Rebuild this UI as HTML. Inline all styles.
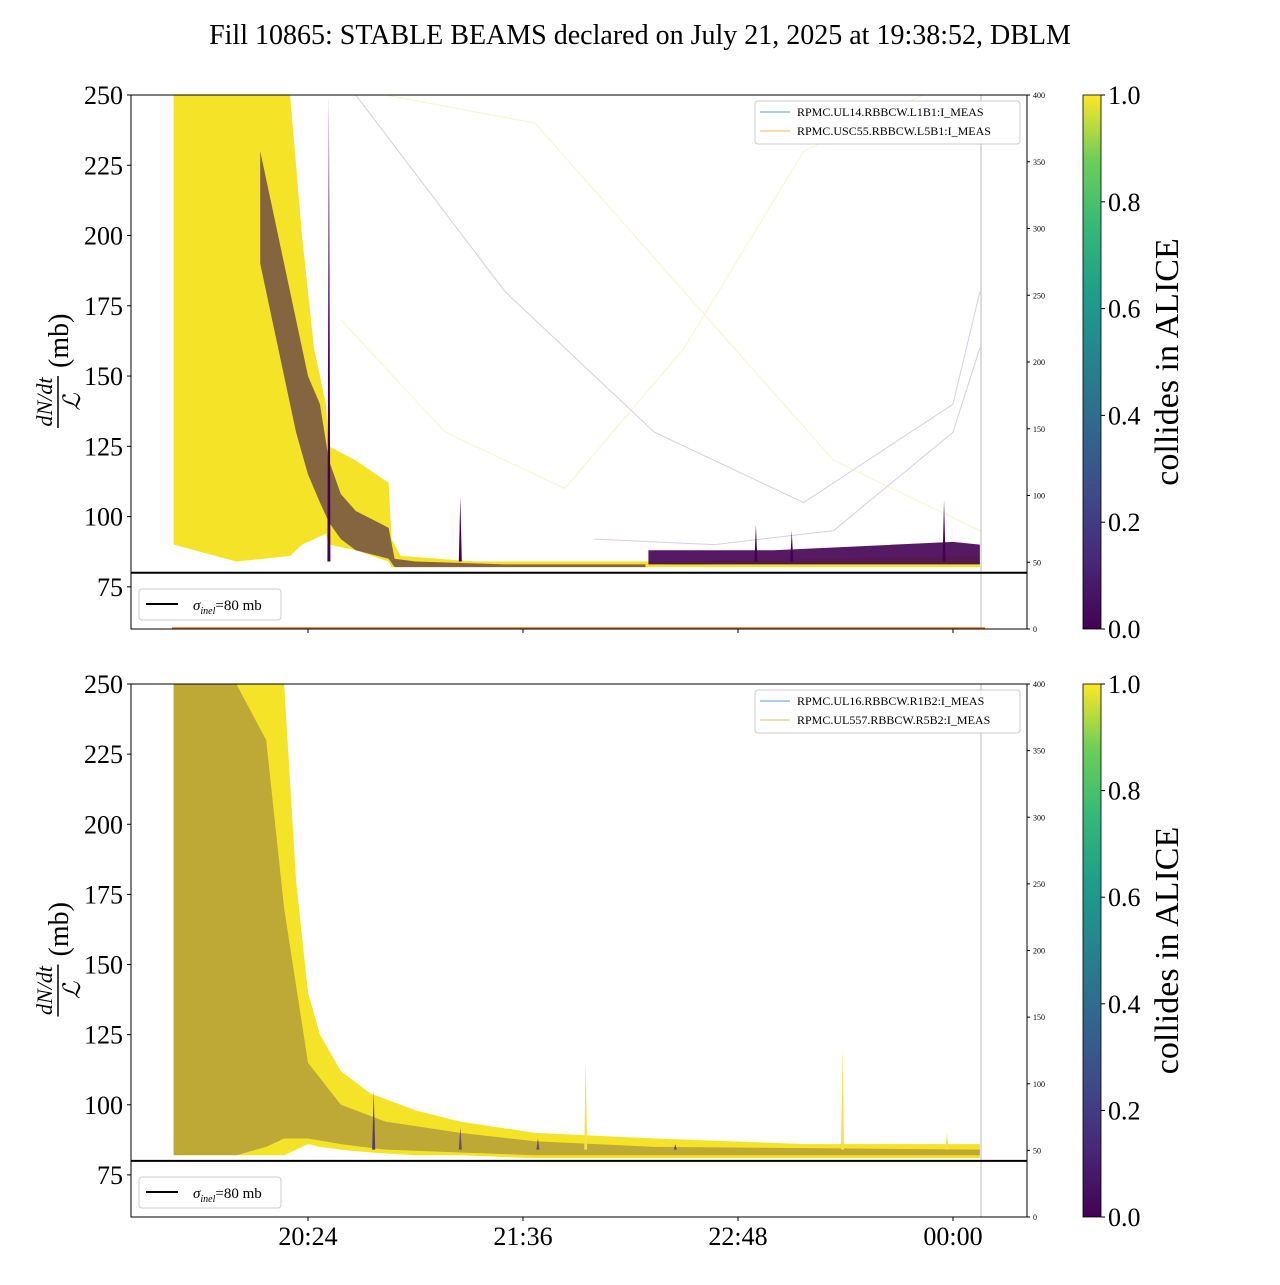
<!DOCTYPE html>
<html><head><meta charset="utf-8"><style>
body{margin:0;background:#fff;}
svg text{font-family:"Liberation Serif",serif;}
</style></head><body>
<svg id="fig" width="1280" height="1280" xmlns="http://www.w3.org/2000/svg">
<defs>
<linearGradient id="viridis" x1="0" y1="1" x2="0" y2="0">
<stop offset="0" stop-color="#440154"/><stop offset="0.13" stop-color="#482878"/><stop offset="0.25" stop-color="#3e4a89"/><stop offset="0.38" stop-color="#31688e"/><stop offset="0.5" stop-color="#26828e"/><stop offset="0.63" stop-color="#1f9e89"/><stop offset="0.75" stop-color="#35b779"/><stop offset="0.88" stop-color="#6ece58"/><stop offset="1" stop-color="#fde725"/>
</linearGradient>
<clipPath id="clipTop"><rect x="131" y="95" width="896" height="534"/></clipPath>
<clipPath id="clipBot"><rect x="131" y="684" width="896" height="533"/></clipPath>
</defs>
<text x="640" y="44" font-size="28" text-anchor="middle">Fill 10865: STABLE BEAMS declared on July 21, 2025 at 19:38:52, DBLM</text>
<g id="gTop"></g>
<g id="gBot"></g>
</svg>
<script>
// time in minutes since 19:00
const xTickLabels = ["20:24","21:36","22:48","00:00"];
const xTickMinutes = [84,156,228,300];
const yTickValues = [75,100,125,150,175,200,225,250];
const rightTickValues = [0,50,100,150,200,250,300,350,400];
const cbTickValues = [0.0,0.2,0.4,0.6,0.8,1.0];

// top panel
const topYellowTimes = [39,60,78,82,86,90,91,100,111,112,115,140,200,260,309];
const topYellowUpper = [250,250,250,200,160,140,125,120,112,92,86,84,84,85,86];
const topYellowLower = [90,84,86,90,92,94,90,88,84,82,82,82,82,82,82];
const topPurpleTimes = [68,72,76,80,84,88,91,95,100,111,113,120,150,197];
const topPurpleUpper = [230,210,190,170,150,140,120,108,102,96,85,84,83,83];
const topPurpleLower = [190,170,150,130,115,105,98,92,88,85,82,82,82,82];
const topBandTimes = [198,220,240,260,280,300,309];
const topBandUpper = [88,88,88,89,90,91,90];
const topBandLower = [83,83,83,83,83,83,83];
const topSpikeTimes = [91,135,234,246,297];
const topSpikeValues = [250,107,97,95,106];
const topFaintA_t = [95,130,170,210,250,290,309];
const topFaintA_v = [170,130,110,160,230,250,250];
const topFaintB_t = [100,150,200,250,300,309];
const topFaintB_v = [250,180,130,105,140,180];
const topFaintC_t = [110,160,210,260,309];
const topFaintC_v = [250,240,180,120,95];
const topFaintD_t = [180,220,260,300,309];
const topFaintD_v = [92,90,95,130,160];

// bottom panel
const botYellowTimes = [39,60,76,80,84,88,95,105,120,135,160,200,250,309];
const botYellowUpper = [250,250,250,180,140,125,112,104,98,94,90,88,86,86];
const botYellowLower = [82,82,82,84,86,85,84,83,82,82,81,81,81,81];
const botPurpleTimes = [39,50,60,70,76,84,95,110,135,160,200,309];
const botPurpleUpper = [250,250,250,230,170,115,100,94,90,87,85,84];
const botPurpleLower = [82,82,82,85,88,88,86,84,83,82,82,82];
const botSpikeTimes = [106,135,161,177,207,263,298];
const botSpikeValues = [105,92,88,116,86,120,90];
const botSpikeColors = ["#5a3a6a","#6a4a70","#6a4a70","#f5e04a","#6a4a70","#f5e04a","#f5e04a"];

const NS="http://www.w3.org/2000/svg";
const X0=131,X1=1027;
function xs(m){return 308+(m-84)*215/72;}
function mk(tag,attrs,parent){const e=document.createElementNS(NS,tag);for(const k in attrs)e.setAttribute(k,attrs[k]);parent.appendChild(e);return e;}

function drawPanel(g,y0,y1,clip,cfg){
  const ys=v=>y1-(v-60)/190*(y1-y0);
  const cg=mk('g',{'clip-path':'url(#'+clip+')'},g);
  function band(t,up,lo,fill,op,name){
    let d='M'+t.map((m,i)=>xs(m)+','+ys(up[i])).join('L');
    for(let i=t.length-1;i>=0;i--)d+='L'+xs(t[i])+','+ys(lo[i]);
    const p=mk('path',{d:d+'Z',fill:fill,'fill-opacity':op},cg);
    
    
  }
  function line(t,v,col,op,w,name){
    const p=mk('polyline',{points:t.map((m,i)=>xs(m)+','+ys(v[i])).join(' '),fill:'none',stroke:col,'stroke-opacity':op,'stroke-width':w},cg);
    
    
  }
  (cfg.faint||[]).forEach((f,i)=>line(f[0],f[1],i%2?'#c9b8d4':'#f6efb8',0.7,1,'faint-trace'));
  band(cfg.yt,cfg.yu,cfg.yl,'#f4e21c',0.95,'yellow-trace-band');
  band(cfg.pt,cfg.pu,cfg.pl,cfg.pc,cfg.po,'purple-trace-band');
  if(cfg.bt)band(cfg.bt,cfg.bu,cfg.bl,'#440154',0.9,'purple-band-late');
  cfg.st.forEach((m,i)=>{
    const s=mk('path',{d:'M'+(xs(m)-1.5)+','+ys(84)+'L'+xs(m)+','+ys(cfg.sv[i])+'L'+(xs(m)+1.5)+','+ys(84)+'Z',fill:cfg.sc?cfg.sc[i]:'#440154'},cg);
    
    
  });
  mk('line',{x1:981,x2:981,y1:y0,y2:y1,stroke:'#bbb','stroke-width':1},g);
  const sl=mk('line',{x1:X0,x2:X1,y1:ys(80),y2:ys(80),stroke:'#000','stroke-width':2},g);
  
  if(cfg.orange)mk('line',{x1:172,x2:985,y1:y1-1,y2:y1-1,stroke:'#e8701a','stroke-width':1.5},g);
  mk('rect',{x:X0,y:y0,width:X1-X0,height:y1-y0,fill:'none',stroke:'#000','stroke-width':1},g);
  yTickValues.forEach(v=>{
    mk('line',{x1:X0-4,x2:X0,y1:ys(v),y2:ys(v),stroke:'#000'},g);
    const t=mk('text',{x:X0-8,y:ys(v)+9,'font-size':26,'text-anchor':'end'},g);t.textContent=v;
    
  });
  rightTickValues.forEach(v=>{
    const y=y1-v/400*(y1-y0);
    mk('line',{x1:X1,x2:X1+3,y1:y,y2:y,stroke:'#000'},g);
    const t=mk('text',{x:X1+6,y:y+3,'font-size':8},g);t.textContent=v;
    
  });
  xTickMinutes.forEach((m,i)=>{
    mk('line',{x1:xs(m),x2:xs(m),y1:y1,y2:y1+4,stroke:'#000'},g);
    if(cfg.xlabels){const t=mk('text',{x:xs(m),y:y1+28,'font-size':26,'text-anchor':'middle'},g);t.textContent=xTickLabels[i];
      }
  });
  const yl=mk('g',{transform:'translate(60,'+((y0+y1)/2)+') rotate(-90)'},g);
  
  let t=mk('text',{x:-40,y:-8,'font-size':22,'font-style':'italic','text-anchor':'middle'},yl);t.textContent='dN/dt';
  mk('line',{x1:-66,x2:-14,y1:-2,y2:-2,stroke:'#000','stroke-width':1.5},yl);
  t=mk('text',{x:-40,y:20,'font-size':24,'font-style':'italic','text-anchor':'middle'},yl);t.textContent='ℒ';
  t=mk('text',{x:-6,y:8,'font-size':28},yl);t.textContent='(mb)';
  const lg=mk('g',{},g);
  mk('rect',{x:755,y:y0+6,width:265,height:43,rx:3,fill:'#fff','fill-opacity':0.85,stroke:'#ccc'},lg);
  mk('line',{x1:760,x2:790,y1:y0+17,y2:y0+17,stroke:'#5b9bd5'},lg);
  mk('line',{x1:760,x2:790,y1:y0+36,y2:y0+36,stroke:'#f5b56b'},lg);
  t=mk('text',{x:797,y:y0+21,'font-size':12},lg);t.textContent=cfg.leg[0];
  t=mk('text',{x:797,y:y0+40,'font-size':12},lg);t.textContent=cfg.leg[1];
  const sg=mk('g',{},g);
  mk('rect',{x:139,y:y1-40,width:142,height:31,rx:3,fill:'#fff',stroke:'#ccc'},sg);
  mk('line',{x1:146,x2:178,y1:y1-25,y2:y1-25,stroke:'#000','stroke-width':2},sg);
  t=mk('text',{x:193,y:y1-19,'font-size':15},sg);
  t.innerHTML='<tspan font-style="italic">σ</tspan><tspan font-size="10" font-style="italic" dy="4">inel</tspan><tspan dy="-4">=80 mb</tspan>';
  const cb=mk('g',{},g);
  mk('rect',{x:1083,y:y0,width:18,height:y1-y0,fill:'url(#viridis)',stroke:'#000','stroke-width':0.8},cb);
  cbTickValues.forEach(v=>{const y=y1-v*(y1-y0);
    mk('line',{x1:1101,x2:1105,y1:y,y2:y,stroke:'#000'},cb);
    const tt=mk('text',{x:1108,y:y+9,'font-size':26},cb);tt.textContent=v.toFixed(1);});
  const ct=mk('text',{x:0,y:0,'font-size':34,'text-anchor':'middle',transform:'translate(1178,'+((y0+y1)/2)+') rotate(-90)'},cb);
  ct.textContent='collides in ALICE';
}
drawPanel(document.getElementById('gTop'),95,629,'clipTop',{
  yt:topYellowTimes,yu:topYellowUpper,yl:topYellowLower,
  pt:topPurpleTimes,pu:topPurpleUpper,pl:topPurpleLower,pc:'#3b0f50',po:0.6,
  bt:topBandTimes,bu:topBandUpper,bl:topBandLower,
  st:topSpikeTimes,sv:topSpikeValues,
  faint:[[topFaintA_t,topFaintA_v],[topFaintB_t,topFaintB_v],[topFaintC_t,topFaintC_v],[topFaintD_t,topFaintD_v]],
  orange:true,xlabels:false,
  leg:['RPMC.UL14.RBBCW.L1B1:I_MEAS','RPMC.USC55.RBBCW.L5B1:I_MEAS']});
drawPanel(document.getElementById('gBot'),684,1217,'clipBot',{
  yt:botYellowTimes,yu:botYellowUpper,yl:botYellowLower,
  pt:botPurpleTimes,pu:botPurpleUpper,pl:botPurpleLower,pc:'#5a3a50',po:0.35,
  st:botSpikeTimes,sv:botSpikeValues,sc:botSpikeColors,
  faint:[],orange:false,xlabels:true,
  leg:['RPMC.UL16.RBBCW.R1B2:I_MEAS','RPMC.UL557.RBBCW.R5B2:I_MEAS']});
</script>
</body></html>
